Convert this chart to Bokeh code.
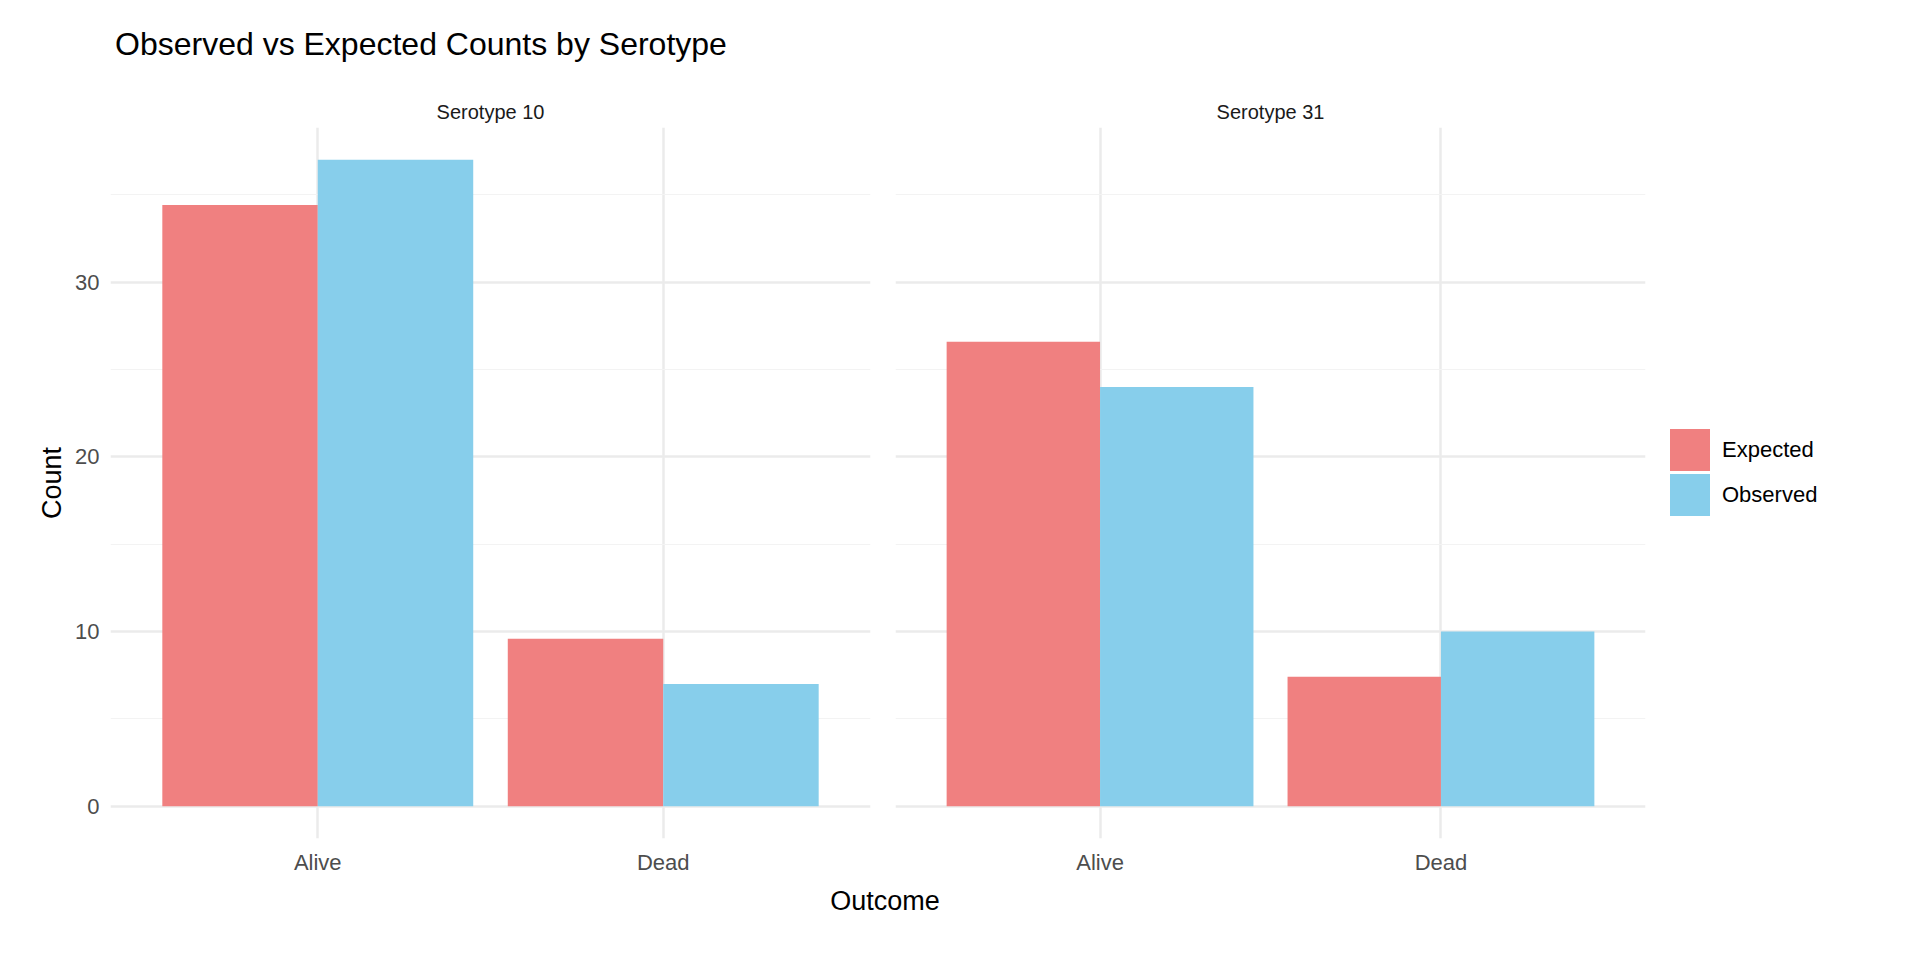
from bokeh.plotting import figure
from bokeh.models import ColumnDataSource, FixedTicker, Div, Range1d
from bokeh.layouts import column, row
from bokeh.embed import file_html
from bokeh.resources import INLINE

serotypes = ["Serotype 10", "Serotype 31"]
outcomes = ["Alive", "Dead"]
expected = {"Serotype 10": [34.41, 9.59], "Serotype 31": [26.59, 7.41]}
observed = {"Serotype 10": [37, 7], "Serotype 31": [24, 10]}
series = ["Expected", "Observed"]
colors = ["#F08080", "#87CEEB"]
yticks = [0, 10, 20, 30]

FONT = "Liberation Sans"
figs = []
for i, s in enumerate(serotypes):
    w = 880 if i == 0 else 775
    p = figure(width=w, height=790, output_backend="svg", toolbar_location=None,
               x_range=Range1d(0.4, 2.6), y_range=Range1d(-1.85, 38.85),
               min_border_left=15 if i else 110, min_border_right=10, min_border_top=40)
    p.title.text = s
    p.title.align = "center"
    p.title.text_font = FONT
    p.title.text_font_size = "20px"
    p.title.text_font_style = "normal"
    p.title.text_color = "#1a1a1a"
    xs = list(range(1, len(outcomes) + 1))
    for j, vals in enumerate([expected[s], observed[s]]):
        src = ColumnDataSource(dict(x=[x - 0.225 + 0.45 * j for x in xs], top=vals))
        p.vbar(x="x", top="top", width=0.45, bottom=0, source=src, color=colors[j], line_color=None)
    p.xaxis.ticker = FixedTicker(ticks=xs)
    p.xaxis.major_label_overrides = {x: o for x, o in zip(xs, outcomes)}
    p.yaxis.ticker = FixedTicker(ticks=yticks, minor_ticks=[5, 15, 25, 35])
    p.xgrid.ticker = FixedTicker(ticks=xs)
    for ax in (p.xaxis[0], p.yaxis[0]):
        ax.axis_line_color = None
        ax.major_tick_line_color = None
        ax.minor_tick_line_color = None
        ax.major_label_text_font = FONT
        ax.major_label_text_font_size = "22px"
        ax.major_label_text_color = "#4d4d4d"
        ax.axis_label_text_font = FONT
    if i == 0:
        p.yaxis.axis_label = "Count"
        p.yaxis.axis_label_text_font_size = "27px"
        p.yaxis.axis_label_text_font_style = "normal"
        p.yaxis.axis_label_text_color = "#000000"
    else:
        p.yaxis.visible = False
    p.grid.grid_line_color = "#EBEBEB"
    p.grid.grid_line_width = 2.5
    p.ygrid.minor_grid_line_color = "#F3F3F3"
    p.ygrid.minor_grid_line_width = 1.2
    p.outline_line_color = None
    figs.append(p)

leg_html = "".join(
    f'<div style="display:flex;align-items:center;height:45px">'
    f'<span style="display:inline-block;width:40px;height:42px;background:{c};margin-right:12px"></span>'
    f'<span>{n}</span></div>' for n, c in zip(series, colors))
legend = Div(text=leg_html, width=220, height=400,
             styles={"font-family": FONT, "font-size": "22px", "color": "#000", "margin-top": "340px", "margin-left": "15px"})

title = Div(text="Observed vs Expected Counts by Serotype", width=1880, height=60,
            styles={"font-family": FONT, "font-size": "32px", "color": "#000", "padding-left": "110px", "margin-top": "22px"})
xlabel = Div(text="Outcome", width=1760, height=40,
             styles={"font-family": FONT, "font-size": "27px", "color": "#000", "text-align": "center"})
layout = column(title, row(*figs, legend), xlabel)
open("out.html", "w").write(file_html(layout, INLINE))
